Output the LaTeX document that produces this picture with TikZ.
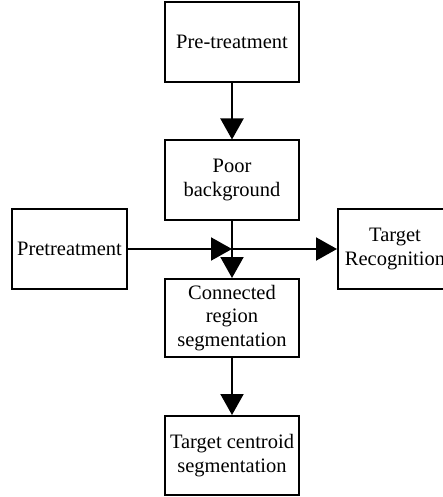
\documentclass[tikz,border=0pt]{standalone}
\usepackage{fontspec}
\setmainfont{Liberation Serif}
\usetikzlibrary{arrows.meta}
\begin{document}
\begin{tikzpicture}[x=1pt,y=-1pt,
  blk/.style={draw,line width=2pt,align=center,inner sep=0pt,
    font=\fontsize{20.5}{23.5}\selectfont},
  conn/.style={line width=2pt,-{Triangle[length=21pt,width=23pt]}}]
\useasboundingbox (0,0) rectangle (443,497);
\begin{scope}
\clip (0,0) rectangle (443,497);
\node[blk,minimum width=134pt,minimum height=80pt] (b1) at (232,42) {Pre-treatment};
\node[blk,minimum width=134pt,minimum height=79pt] (b2) at (232,180) {Poor\\background};
\node[blk,minimum width=115pt,minimum height=80pt] (pre) at (69.5,249) {Pretreatment};
\node[blk,minimum width=114pt,minimum height=80pt] (tr) at (395,249) {Target\\Recognition};
\node[blk,minimum width=134pt,minimum height=78pt] (b3) at (232,318) {Connected\\region\\segmentation};
\node[blk,minimum width=134pt,minimum height=79pt] (b4) at (232,455.5) {Target centroid\\segmentation};
\coordinate (j) at (b2.south |- pre.east);
\draw[conn] (b1.south) -- (b2.north);
\draw[conn] (b2.south) -- (b3.north);
\draw[conn] (pre.east) -- (j);
\draw[conn] (j) -- (tr.west);
\draw[conn] (b3.south) -- (b4.north);
\end{scope}
\end{tikzpicture}
\end{document}
